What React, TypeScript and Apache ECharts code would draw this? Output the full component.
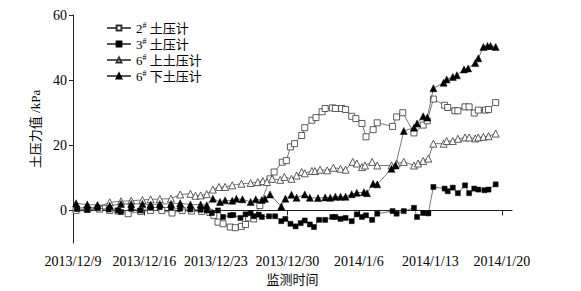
import React, { useEffect, useRef } from "react";
import * as echarts from "echarts";

const xTickLabels = ["2013/12/9", "2013/12/16", "2013/12/23", "2013/12/30", "2014/1/6", "2014/1/13", "2014/1/20"];
const xTickDays = [0, 7, 14, 21, 28, 35, 42];
const yTickValues = [0, 20, 40, 60];

const seriesNames = ["2# 土压计", "3# 土压计", "6# 上土压计", "6# 下土压计"];

// days since 2013/12/9
const s1Days = [0.3,1.4,2.6,3.6,4.4,5.4,6.6,7.6,8.7,9.7,10.7,11.6,12.6,13.4,13.8,14.2,14.7,15.4,15.9,16.5,16.9,17.2,17.7,18.3,19.3,19.7,20.5,20.9,21.3,21.7,22.4,22.7,23.4,23.8,24.4,24.7,25.4,25.7,26.3,26.7,27.3,27.7,28.3,28.7,29.4,29.8,31.3,31.7,32.3,33.4,34.3,34.7,35.3,36.4,36.7,37.4,37.7,38.4,38.8,39.3,39.7,40.4,40.7,41.4];
const s1Vals = [0.0,0.3,0.4,0.0,-0.2,-1.0,-0.3,0.0,0.0,-0.8,0.0,-0.2,-0.3,-0.6,-1.5,-3.6,-4.1,-5.1,-5.3,-4.9,-4.3,-2.3,-2.6,1.5,9.7,11.8,14.8,15.3,19.5,20.5,23.0,25.4,27.7,28.5,30.3,31.3,31.5,31.3,31.3,31.0,28.9,28.2,26.7,22.6,24.8,26.9,25.8,28.7,30.0,23.8,26.2,27.5,34.2,32.3,31.6,30.6,30.6,31.8,31.8,29.9,30.8,30.8,31.0,33.1];

const s2Days = [0.4,1.4,2.4,3.5,4.4,4.7,5.7,6.6,7.6,8.5,9.6,10.5,11.5,12.5,13.1,13.6,14.2,14.7,15.4,15.7,16.4,16.9,17.4,17.7,18.2,18.5,19.2,19.8,20.4,20.8,21.3,21.8,22.3,22.7,23.2,23.6,24.1,24.7,25.4,25.7,26.2,26.7,27.3,27.8,28.3,28.7,29.3,29.8,31.3,31.7,32.4,33.4,33.7,34.3,34.8,35.3,36.4,36.7,37.2,37.7,38.4,38.8,39.3,39.7,40.3,40.7,41.4];
const s2Vals = [0.5,0.2,0.8,0.3,0.0,-0.5,0.5,0.0,0.8,1.0,0.8,0.5,0.3,0.2,0.0,-0.8,0.0,-2.0,-1.5,-1.4,-2.3,-1.2,-0.8,-1.8,-1.3,-2.0,-1.8,-1.8,-3.3,-2.6,-4.1,-4.9,-3.9,-3.1,-4.3,-5.1,-2.9,-2.9,-2.0,-2.0,-2.6,-2.3,-3.3,-1.2,-2.0,-1.5,-2.9,-1.0,-0.2,-1.0,-0.2,0.8,-2.0,-0.8,-0.9,7.2,6.7,5.9,7.0,5.3,7.7,5.3,6.7,6.4,6.2,6.4,8.0];

const s3Days = [0.4,1.4,2.4,3.6,4.7,5.7,6.8,7.6,8.5,9.6,10.5,11.5,12.0,12.5,13.1,13.7,14.3,14.9,15.6,16.5,17.4,18.1,18.6,19.0,19.5,20.3,20.7,21.4,21.9,22.4,22.7,23.4,23.7,24.2,24.9,25.5,26.2,26.7,27.4,27.8,28.3,28.6,29.3,29.8,31.2,31.7,32.4,33.4,33.8,34.3,34.8,35.3,36.3,36.6,37.2,37.7,38.4,38.8,39.4,39.7,40.2,40.7,41.4];
const s3Vals = [0.8,0.8,1.0,2.5,2.8,3.0,3.2,3.4,3.5,3.6,4.9,5.1,4.5,4.6,5.0,6.4,7.2,7.2,7.7,8.2,8.4,8.7,9.0,8.7,9.7,9.4,10.3,9.7,10.7,11.8,11.4,12.1,12.1,12.5,12.3,13.1,12.8,12.5,14.9,14.4,13.3,13.8,14.9,13.8,13.8,14.4,14.9,13.8,14.4,15.2,15.9,20.5,20.5,21.3,21.3,22.0,22.4,22.4,22.1,22.4,22.6,22.8,23.6];

const s4Days = [0.3,1.4,2.4,3.6,4.7,5.7,6.8,7.6,8.5,9.6,10.5,11.5,12.5,13.1,13.7,14.4,14.9,15.6,16.0,16.6,17.4,17.9,18.5,18.8,19.3,20.4,20.8,21.4,21.9,22.7,23.2,24.0,24.7,25.2,25.7,26.2,26.7,27.3,27.8,28.5,28.8,29.4,29.8,31.2,31.6,32.4,33.4,33.7,34.3,34.7,35.3,36.3,36.6,37.2,37.6,38.3,38.7,39.4,39.7,40.2,40.6,40.9,41.4];
const s4Vals = [2.2,1.8,1.7,1.4,2.0,2.0,2.0,1.8,2.0,2.0,2.2,1.8,1.8,1.6,3.6,2.6,3.1,3.0,3.6,3.4,2.6,3.4,3.2,3.6,4.9,1.2,3.6,4.8,3.9,4.9,3.9,3.8,4.0,3.9,4.2,4.2,4.2,5.0,5.4,5.6,5.3,8.2,8.0,12.8,13.8,24.4,25.4,26.7,28.9,28.5,37.5,39.2,40.2,41.0,41.5,43.3,43.6,45.3,46.7,50.2,50.5,50.5,50.2];

const FONT = "'Liberation Serif', 'Times New Roman', 'Noto Sans CJK SC', serif";

const pair = (d: number[], v: number[]) => d.map((x, i) => [x, v[i]]);

export default function App() {
  const ref = useRef<HTMLDivElement>(null);
  useEffect(() => {
    if (!ref.current) return;
    const chart = echarts.init(ref.current, undefined, { renderer: "svg" });
    const lineStyle = { color: "#555", width: 0.8 };
    const mk = (name: string, data: number[][], symbol: string, size: number, filled: boolean) => ({
      name,
      type: "line",
      data,
      symbol,
      symbolSize: size,
      showSymbol: true,
      lineStyle,
      itemStyle: filled
        ? { color: "#000", borderColor: "#000", borderWidth: 0.5 }
        : { color: "#fff", borderColor: "#333", borderWidth: 0.8 },
      emphasis: { disabled: true },
      z: filled ? 3 : 2,
    });
    chart.setOption({
      animation: false,
      backgroundColor: "#fff",
      grid: { left: 73, right: 69, top: 15, bottom: 48 },
      legend: {
        orient: "vertical",
        left: 101,
        top: 16,
        itemWidth: 24,
        itemHeight: 6,
        itemGap: 2,
        data: seriesNames,
        formatter: (n: string) => n.replace("#", "{s|#}"),
        textStyle: {
          fontFamily: FONT,
          fontSize: 13,
          lineHeight: 14,
          color: "#000",
          rich: { s: { fontFamily: FONT, fontSize: 8, verticalAlign: "top", lineHeight: 14, color: "#000" } },
        },
      },
      xAxis: {
        type: "value",
        min: 0,
        max: 43,
        interval: 7,
        name: "监测时间",
        nameLocation: "middle",
        nameGap: 29,
        nameTextStyle: { fontFamily: FONT, fontSize: 13, color: "#000" },
        splitLine: { show: false },
        axisLine: { lineStyle: { color: "#222", width: 1 } },
        axisTick: { show: true, inside: false, length: 5, customValues: xTickDays, lineStyle: { color: "#222" } },
        axisLabel: {
          customValues: xTickDays,
          margin: 11,
          fontFamily: FONT,
          fontSize: 14,
          color: "#000",
          formatter: (v: number) => {
            const i = xTickDays.indexOf(Math.round(v));
            return i >= 0 ? xTickLabels[i] : "";
          },
        },
      },
      yAxis: {
        type: "value",
        min: -10,
        max: 60,
        name: "土压力值 /kPa",
        nameLocation: "middle",
        nameGap: 24,
        nameTextStyle: { fontFamily: FONT, fontSize: 13, color: "#000" },
        splitLine: { show: false },
        axisLine: { show: true, lineStyle: { color: "#222", width: 1 } },
        axisTick: { show: true, length: 4, customValues: yTickValues, lineStyle: { color: "#222" } },
        axisLabel: { customValues: yTickValues, margin: 6, fontFamily: FONT, fontSize: 14, color: "#000" },
      },
      series: [
        mk(seriesNames[0], pair(s1Days, s1Vals), "rect", 6, false),
        mk(seriesNames[1], pair(s2Days, s2Vals), "rect", 5, true),
        mk(seriesNames[2], pair(s3Days, s3Vals), "triangle", 7, false),
        mk(seriesNames[3], pair(s4Days, s4Vals), "triangle", 7, true),
      ],
    });
    return () => chart.dispose();
  }, []);
  return <div ref={ref} style={{ position: "fixed", left: 0, top: 0, width: 581, height: 291, background: "#fff" }} />;
}
